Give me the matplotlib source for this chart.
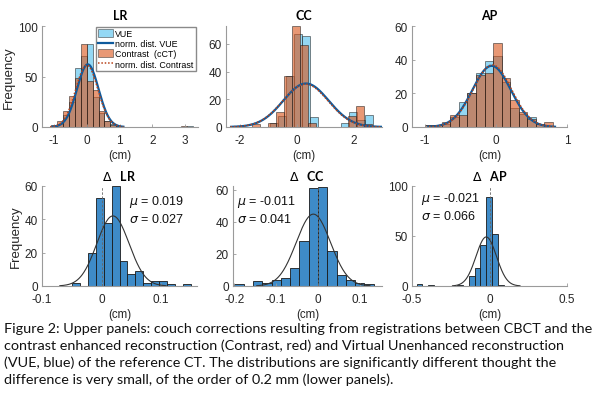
from __future__ import annotations

import matplotlib

matplotlib.use("Agg")
import matplotlib.pyplot as plt
import numpy as np
from matplotlib.lines import Line2D
from matplotlib.patches import Patch

# Upper panels: couch corrections (cm), VUE vs contrast-enhanced CT.
# Each histogram is stored as bin left edges + counts, one bin width per panel.
lr_width = 0.18
lr_vue_left = [-1.08, -0.90, -0.72, -0.54, -0.36, -0.18, 0.0, 0.18, 0.36, 0.54, 0.72, 0.90, 3.06]
lr_vue_counts = [1, 3, 12, 25, 58, 70, 82, 30, 14, 6, 3, 1, 1]
lr_con_left = [-1.08, -0.90, -0.72, -0.54, -0.36, -0.18, 0.0, 0.18, 0.36, 0.54, 0.72, 0.90, 2.88]
lr_con_counts = [2, 6, 16, 31, 49, 82, 46, 37, 16, 6, 2, 1, 1]

cc_width = 0.28
cc_vue_left = [-0.95, -0.67, -0.39, -0.11, 0.17, 0.45, 1.57, 1.85, 2.13, 2.41]
cc_vue_counts = [3, 8, 37, 67, 66, 7, 3, 11, 5, 9]
cc_con_left = [-1.57, -1.01, -0.73, -0.45, -0.17, 0.11, 0.39, 1.79, 2.07, 2.35]
cc_con_counts = [2, 3, 11, 37, 73, 59, 3, 8, 15, 2]

ap_width = 0.12
ap_left = [-1.00, -0.88, -0.76, -0.64, -0.52, -0.40, -0.28, -0.16, -0.04, 0.08, 0.20, 0.32, 0.44, 0.56, 0.68]
ap_vue_counts = [1, 1, 2, 6, 15, 20, 32, 39, 42, 27, 11, 8, 6, 2, 0]
ap_con_counts = [1, 1, 3, 7, 7, 20, 31, 32, 50, 29, 16, 9, 5, 2, 3]

# normal fits (mean, std, n) for VUE and contrast
lr_fit_vue = (0.03, 0.33, 285)
lr_fit_con = (0.00, 0.34, 290)
cc_fit_vue = (0.32, 0.80, 225)
cc_fit_con = (0.30, 0.80, 222)
ap_fit_vue = (-0.06, 0.27, 205)
ap_fit_con = (-0.05, 0.27, 208)

# Lower panels: difference VUE - contrast (cm)
dlr_width = 0.0133
dlr_left = [-0.0497, -0.0364, -0.0231, -0.0098, 0.0035, 0.0168, 0.0301, 0.0434,
            0.0567, 0.0700, 0.0833, 0.0966, 0.1099, 0.1232, 0.1365]
dlr_counts = [2, 0, 20, 53, 38, 60, 15, 7, 9, 2, 3, 3, 1, 0, 1]
dlr_stats = (0.019, 0.027, 214)

dcc_width = 0.0222
dcc_left = [-0.1998, -0.1776, -0.1554, -0.1332, -0.1110, -0.0888, -0.0666, -0.0444,
            -0.0222, 0.0, 0.0222, 0.0444, 0.0666, 0.0888, 0.1110]
dcc_counts = [1, 0, 3, 2, 4, 5, 11, 28, 61, 62, 22, 7, 4, 2, 1]
dcc_stats = (-0.011, 0.041, 208)

dap_width = 0.0374
dap_left = [-0.4698, -0.4324, -0.3950, -0.3576, -0.3202, -0.2828, -0.2454, -0.2080,
            -0.1706, -0.1332, -0.0958, -0.0584, -0.0210, 0.0164, 0.0538]
dap_counts = [2, 0, 1, 0, 0, 0, 0, 1, 0, 10, 18, 41, 89, 52, 1]
dap_stats = (-0.021, 0.066, 217)

caption_lines = [
    "Figure 2: Upper panels: couch corrections resulting from registrations between CBCT and the",
    "contrast enhanced reconstruction (Contrast, red) and Virtual Unenhanced reconstruction",
    "(VUE, blue) of the reference CT. The distributions are significantly different thought the",
    "difference is very small, of the order of 0.2 mm (lower panels).",
]

VUE_COLOR = "#4DBEEE"
CON_COLOR = "#D95319"
VUE_LINE = "#0E5A9C"
CON_LINE = "#B8431A"
DELTA_COLOR = "#3E8BC8"
SPINE = "#9a9a9a"
TICK_TEXT = "#262626"
FIT_SPAN = 3.3

plt.rcParams["font.family"] = ["Liberation Sans", "DejaVu Sans"]
plt.rcParams["mathtext.fontset"] = "dejavusans"


def _style(ax, xlim, ylim, xticks, yticks):
    ax.set_xlim(*xlim)
    ax.set_ylim(*ylim)
    ax.set_xticks(xticks)
    ax.set_yticks(yticks)
    ax.set_xticklabels([f"{t:g}" for t in xticks])
    for side in ("top", "right"):
        ax.spines[side].set_visible(False)
    for side in ("left", "bottom"):
        ax.spines[side].set_color(SPINE)
        ax.spines[side].set_linewidth(0.8)
    ax.tick_params(direction="in", length=2.5, width=0.6, color=SPINE,
                   labelsize=8.5, labelcolor=TICK_TEXT)
    ax.tick_params(axis="x", pad=5)
    ax.tick_params(axis="y", pad=3)
    ax.set_xlabel("(cm)", fontsize=8.3, color=TICK_TEXT, labelpad=2)


def _bars(ax, left, counts, width, color, alpha):
    keep = [i for i, c in enumerate(counts) if c > 0]
    ax.bar([left[i] for i in keep], [counts[i] for i in keep], width=width, align="edge",
           color=color, alpha=alpha, edgecolor=(0.1, 0.1, 0.1, 0.55), linewidth=0.6)


def _normal(ax, fit, width, **line_kw):
    mu, sigma, n = fit
    xs = np.linspace(mu - FIT_SPAN * sigma, mu + FIT_SPAN * sigma, 200)
    ys = n * width / (sigma * np.sqrt(2 * np.pi)) * np.exp(-0.5 * ((xs - mu) / sigma) ** 2)
    ax.plot(xs, ys, **line_kw)


def draw_pair(ax, title, width, vue_left, vue_counts, con_left, con_counts, fit_vue, fit_con):
    _bars(ax, vue_left, vue_counts, width, VUE_COLOR, 0.6)
    _bars(ax, con_left, con_counts, width, CON_COLOR, 0.6)
    _normal(ax, fit_vue, width, color=VUE_LINE, linewidth=1.6)
    _normal(ax, fit_con, width, color=CON_LINE, linewidth=1.1, linestyle=(0, (1, 1.2)))
    ax.set_title(title, fontsize=9, fontweight="bold", family="Lato", pad=5)


def draw_delta(ax, title, width, left, counts, stats, text_xy):
    _bars(ax, left, counts, width, DELTA_COLOR, 1.0)
    _normal(ax, stats, width, color="#333333", linewidth=0.8)
    ax.axvline(0, color="#666666", linewidth=0.6, linestyle=(0, (3, 2)))
    mu, sigma, _ = stats
    ax.text(*text_xy, f"$\\mu$ = {mu:.3f}\n$\\sigma$ = {sigma:.3f}", transform=ax.transAxes,
            fontsize=9, va="top", ha="left", color="#111111", linespacing=1.3)
    ax.set_title("$\\Delta$   " + title, fontsize=9, fontweight="bold", family="Lato", pad=4)


fig = plt.figure(figsize=(6.0, 4.06), dpi=100)
W, H = 600, 406


def _axes(x0, x1, y0, y1):
    return fig.add_axes([x0 / W, 1 - y1 / H, (x1 - x0) / W, (y1 - y0) / H])


ax_lr = _axes(42, 198, 27, 128)
ax_cc = _axes(226, 382, 27, 128)
ax_ap = _axes(412, 567, 27, 128)
ax_dlr = _axes(42, 197, 187, 287)
ax_dcc = _axes(233, 382, 187, 287)
ax_dap = _axes(412, 567, 187, 287)

draw_pair(ax_lr, "LR", lr_width, lr_vue_left, lr_vue_counts, lr_con_left, lr_con_counts,
          lr_fit_vue, lr_fit_con)
_style(ax_lr, (-1.37, 3.4), (0, 100), [-1, 0, 1, 2, 3], [0, 50, 100])
ax_lr.legend(
    handles=[
        Patch(facecolor=VUE_COLOR, alpha=0.6, edgecolor="#333333", linewidth=0.6, label="VUE"),
        Line2D([], [], color=VUE_LINE, linewidth=1.6, label="norm. dist. VUE"),
        Patch(facecolor=CON_COLOR, alpha=0.6, edgecolor="#333333", linewidth=0.6, label="Contrast  (cCT)"),
        Line2D([], [], color=CON_LINE, linewidth=1.1, linestyle=(0, (1, 1.2)), label="norm. dist. Contrast"),
    ],
    loc="upper right", bbox_to_anchor=(0.985, 0.99), borderaxespad=0, fontsize=6.4,
    frameon=True, fancybox=False, edgecolor="#8a8a8a", framealpha=1, handlelength=1.7,
    handleheight=1.0, handletextpad=0.2, labelspacing=0.12, borderpad=0.25,
)
ax_lr.set_ylabel("Frequency", fontsize=9.5, color=TICK_TEXT, labelpad=2)

draw_pair(ax_cc, "CC", cc_width, cc_vue_left, cc_vue_counts, cc_con_left, cc_con_counts,
          cc_fit_vue, cc_fit_con)
_style(ax_cc, (-2.5, 3.0), (0, 73), [-2, 0, 2], [0, 20, 40, 60])

draw_pair(ax_ap, "AP", ap_width, ap_left, ap_vue_counts, ap_left, ap_con_counts,
          ap_fit_vue, ap_fit_con)
_style(ax_ap, (-1.18, 1.0), (0, 60), [-1, 0, 1], [0, 20, 40, 60])

draw_delta(ax_dlr, "LR", dlr_width, dlr_left, dlr_counts, dlr_stats, (0.56, 0.93))
_style(ax_dlr, (-0.1, 0.16), (0, 60), [-0.1, 0, 0.1], [0, 20, 40, 60])
ax_dlr.set_ylabel("Frequency", fontsize=9.5, color=TICK_TEXT, labelpad=2)

draw_delta(ax_dcc, "CC", dcc_width, dcc_left, dcc_counts, dcc_stats, (0.03, 0.93))
_style(ax_dcc, (-0.203, 0.153), (0, 62.5), [-0.2, -0.1, 0, 0.1], [0, 20, 40, 60])

draw_delta(ax_dap, "AP", dap_width, dap_left, dap_counts, dap_stats, (0.06, 0.96))
_style(ax_dap, (-0.5, 0.5), (0, 100), [-0.5, 0, 0.5], [0, 50, 100])

for i, line in enumerate(caption_lines):
    fig.text(4 / W, 1 - (329 + i * 16.8) / H, line, fontsize=10.4, family="Lato",
             va="center", ha="left", color="#111111")

fig.savefig("out.png", dpi=100, facecolor="white")
